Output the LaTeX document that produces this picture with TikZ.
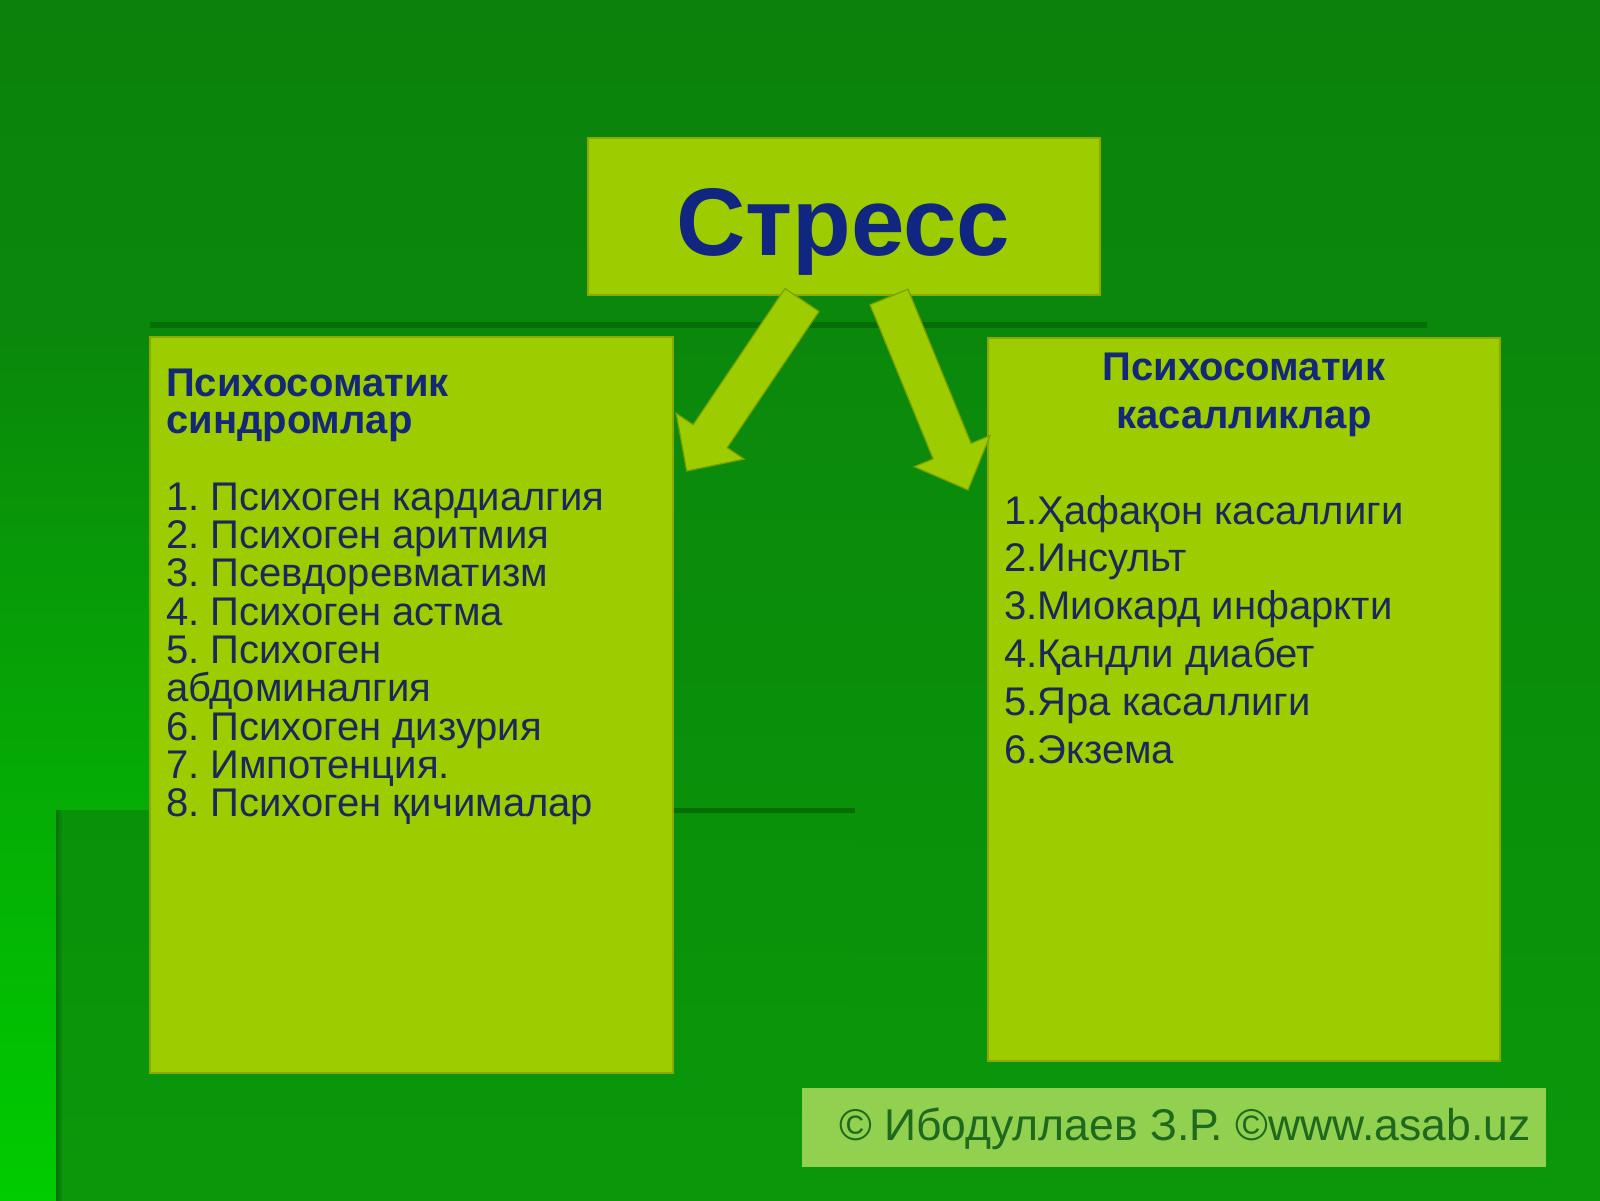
\documentclass[tikz,border=0pt]{standalone}
\usepackage{fontspec}
\setmainfont{Liberation Sans}
\usetikzlibrary{calc}
\definecolor{bgtop}{RGB}{11,130,11}
\definecolor{bgbot}{RGB}{10,152,10}
\definecolor{glowtop}{RGB}{10,136,10}
\definecolor{glowmid}{RGB}{4,176,4}
\definecolor{glowbot}{RGB}{0,204,0}
\definecolor{paneltop}{RGB}{10,145,10}
\definecolor{shadowc}{RGB}{6,110,6}
\definecolor{boxfill}{RGB}{157,204,0}
\definecolor{boxedge}{RGB}{138,170,0}
\definecolor{arrowedge}{RGB}{120,160,0}
\definecolor{titlec}{RGB}{20,40,120}
\definecolor{listc}{RGB}{26,40,92}
\definecolor{stressc}{RGB}{16,38,128}
\definecolor{footfill}{RGB}{146,208,80}
\definecolor{foottext}{RGB}{30,105,30}
\newcommand{\numgap}{\kern-4pt}
\tikzset{
  box/.style={draw=boxedge, line width=2pt, fill=boxfill, inner sep=0pt},
  blockarr/.style={draw=arrowedge, line width=1.2pt, fill=boxfill, line join=miter},
  ltext/.style={inner sep=0pt, anchor=base west, text=listc, font=\fontsize{40}{40}\selectfont},
  ttext/.style={inner sep=0pt, text=titlec, font=\bfseries\fontsize{40}{40}\selectfont},
}
\begin{document}
\begin{tikzpicture}[x=1pt,y=-1pt]
\useasboundingbox (0,0) rectangle (1600,1200);
% background
\shade[top color=bgtop, bottom color=bgbot] (0,0) rectangle (1600,1200);
\shade[top color=glowtop, middle color=glowmid, bottom color=glowbot] (0,340) rectangle (150,1200);
\shade[top color=paneltop, bottom color=bgbot] (56,810) rectangle (855,1200);
\shade[left color=shadowc, right color=paneltop] (56,810) rectangle (62,1200);
\fill[shadowc] (673,808) rectangle (855,813);
\fill[shadowc] (150,322) rectangle (1427,328);
% boxes
\node[box, minimum width=512pt, minimum height=157pt] (stressbox) at (844,216.5) {};
\node[box, minimum width=523pt, minimum height=736pt] (leftbox) at (411.5,705) {};
\node[box, minimum width=512pt, minimum height=723pt] (rightbox) at (1244,699.5) {};
\node[fill=footfill, inner sep=0pt, minimum width=744pt, minimum height=79pt] (footbox) at (1174,1127.5) {};
% block arrows
\coordinate (lat) at (802,300);
\coordinate (lap) at (686.7,471);
\coordinate (lah) at ($(lap)!42pt!(lat)$);
\filldraw[blockarr] ($(lat)!20.5pt!90:(lap)$) -- ($(lah)!20.5pt!-90:(lat)$) -- ($(lah)!41pt!-90:(lat)$) -- (lap)
  -- ($(lah)!41pt!90:(lat)$) -- ($(lah)!20.5pt!90:(lat)$) -- ($(lat)!20.5pt!-90:(lap)$) -- cycle;
\coordinate (rat) at (889,297);
\coordinate (rap) at (968,490);
\coordinate (rah) at ($(rap)!42pt!(rat)$);
\filldraw[blockarr] ($(rat)!20.5pt!90:(rap)$) -- ($(rah)!20.5pt!-90:(rat)$) -- ($(rah)!41pt!-90:(rat)$) -- (rap)
  -- ($(rah)!41pt!90:(rat)$) -- ($(rah)!20.5pt!90:(rat)$) -- ($(rat)!20.5pt!-90:(rap)$) -- cycle;
% stress
\node[inner sep=0pt, anchor=base, text=stressc, font=\bfseries\fontsize{96}{96}\selectfont] (stress) at (843,255) {Стресс};
% left box text
\node[ttext, anchor=base west] (lt1) at (166,396) {Психосоматик};
\node[ttext, anchor=base west] (lt2) at (166,433) {синдромлар};
\node[ltext] (l1) at (166,510) {1. \numgap Психоген кардиалгия};
\node[ltext] (l2) at (166,548.3) {2. \numgap Психоген аритмия};
\node[ltext] (l3) at (166,586.7) {3. \numgap Псевдоревматизм};
\node[ltext] (l4) at (166,625) {4. \numgap Психоген астма};
\node[ltext] (l5) at (166,663.3) {5. \numgap Психоген};
\node[ltext] (l5b) at (166,701.7) {абдоминалгия};
\node[ltext] (l6) at (166,740) {6. \numgap Психоген дизурия};
\node[ltext] (l7) at (166,778.3) {7. \numgap Импотенция.};
\node[ltext] (l8) at (166,816.7) {8. \numgap Психоген қичималар};
% right box text
\node[ttext, anchor=base] (rt1) at (1244,380) {Психосоматик};
\node[ttext, anchor=base] (rt2) at (1244,428) {касалликлар};
\node[ltext] (r1) at (1004,524) {1.Ҳафақон касаллиги};
\node[ltext] (r2) at (1004,571.8) {2.Инсульт};
\node[ltext] (r3) at (1004,619.6) {3.Миокард инфаркти};
\node[ltext] (r4) at (1004,667.4) {4.Қандли диабет};
\node[ltext] (r5) at (1004,715.2) {5.Яра касаллиги};
\node[ltext] (r6) at (1004,763) {6.Экзема};
% footer
\node[inner sep=0pt, anchor=base west, text=foottext, font=\fontsize{44.5}{44.5}\selectfont] (foot) at (839,1140) {© Ибодуллаев З.Р. ©www.asab.uz};
\end{tikzpicture}
\end{document}
